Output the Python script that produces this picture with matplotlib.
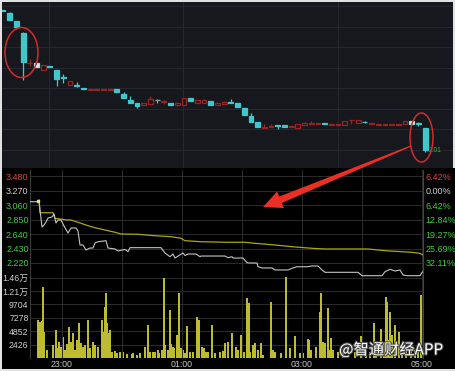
import numpy as np
import matplotlib
matplotlib.use('Agg')
import matplotlib.pyplot as plt
from matplotlib.patches import Rectangle, Ellipse, Polygon
import matplotlib.patheffects as pe

plt.rcParams['font.family'] = ['Liberation Sans', 'Noto Sans CJK SC']

# --- K线 (upper panel) ---
opens = [4.81, 4.75, 4.59, 4.35, 3.75, 3.75, 3.61, 3.69, 3.61, 3.47,
         3.31, 3.32, 3.26, 3.22, 3.22, 3.22, 3.22, 3.23, 3.13, 3.01,
         2.95, 2.91, 2.93, 3.02, 2.98, 2.95, 2.91, 2.91, 3.05, 2.95,
         2.95, 2.99, 2.92, 2.93, 2.98, 2.95, 2.85, 2.69, 2.57, 2.46,
         2.48, 2.50, 2.50, 2.48, 2.45, 2.52, 2.53, 2.54, 2.55, 2.52,
         2.52, 2.51, 2.60, 2.55, 2.57, 2.54, 2.52, 2.52, 2.51, 2.52,
         2.53, 2.59, 2.54, 2.45]
highs = [4.81, 4.76, 4.59, 4.37, 3.83, 3.75, 3.71, 3.69, 3.61, 3.53,
         3.39, 3.37, 3.26, 3.23, 3.23, 3.23, 3.23, 3.23, 3.17, 3.09,
         2.95, 2.95, 3.09, 3.02, 3.01, 2.95, 2.97, 3.05, 3.05, 3.01,
         3.03, 2.99, 2.97, 2.98, 3.03, 2.95, 2.85, 2.75, 2.57, 2.53,
         2.52, 2.50, 2.50, 2.49, 2.53, 2.57, 2.58, 2.55, 2.55, 2.53,
         2.53, 2.59, 2.61, 2.61, 2.59, 2.55, 2.53, 2.53, 2.52, 2.53,
         2.59, 2.59, 2.56, 2.45]
lows = [4.80, 4.60, 4.43, 3.41, 3.69, 3.67, 3.61, 3.67, 3.29, 3.35,
        3.31, 3.27, 3.24, 3.22, 3.22, 3.22, 3.22, 3.17, 3.05, 2.95,
        2.85, 2.91, 2.93, 2.95, 2.93, 2.92, 2.89, 2.91, 2.99, 2.95,
        2.95, 2.92, 2.91, 2.93, 2.95, 2.87, 2.71, 2.56, 2.47, 2.45,
        2.47, 2.43, 2.47, 2.48, 2.45, 2.51, 2.53, 2.54, 2.53, 2.52,
        2.52, 2.51, 2.53, 2.55, 2.55, 2.54, 2.52, 2.52, 2.51, 2.52,
        2.53, 2.53, 2.49, 1.97]
closes = [4.80, 4.61, 4.47, 3.77, 3.76, 3.67, 3.71, 3.67, 3.43, 3.45,
          3.39, 3.30, 3.24, 3.23, 3.23, 3.23, 3.23, 3.17, 3.05, 2.95,
          2.89, 2.95, 3.03, 3.02, 2.985, 2.92, 2.95, 3.05, 2.99, 3.01,
          3.02, 2.92, 2.96, 2.98, 2.96, 2.87, 2.71, 2.56, 2.47, 2.48,
          2.49, 2.495, 2.47, 2.49, 2.53, 2.55, 2.55, 2.55, 2.53, 2.53,
          2.53, 2.59, 2.61, 2.61, 2.56, 2.55, 2.53, 2.53, 2.52, 2.53,
          2.59, 2.53, 2.53, 2.01]
highlight = [5, 61]
month_breaks = [6.9, 26.9, 50.0]
last_label = '2.01'

# --- 分时 (lower panel), minutes after 22:30 ---
line_t = [-2, 6, 7, 8, 10, 12, 14, 16, 20, 22, 24, 26, 29, 32, 36, 39, 44, 46,
          48, 51, 54, 58, 61, 63, 66, 74, 76, 83, 86, 93, 96, 98, 129, 133,
          138, 141, 143, 151, 153, 156, 164, 168, 169, 193, 196, 200, 201, 211,
          215, 218, 225, 226, 230, 240, 243, 256, 261, 265, 275, 280, 286, 290,
          293, 326, 330, 350, 353, 358, 363, 368, 371, 375, 388, 390, 391]
line_p = [3.108, 3.108, 3.132, 2.988, 2.741, 2.770, 2.814, 2.872, 2.886, 2.930,
          2.799, 2.843, 2.843, 2.756, 2.654, 2.727, 2.727, 2.683, 2.481, 2.481,
          2.408, 2.437, 2.437, 2.510, 2.528, 2.543, 2.437, 2.423, 2.394, 2.416,
          2.384, 2.442, 2.442, 2.365, 2.311, 2.350, 2.292, 2.365, 2.329, 2.350,
          2.350, 2.311, 2.321, 2.321, 2.297, 2.311, 2.292, 2.292, 2.224, 2.220,
          2.220, 2.166, 2.148, 2.148, 2.119, 2.119, 2.148, 2.166, 2.166, 2.177,
          2.177, 2.119, 2.085, 2.085, 2.036, 2.036, 2.094, 2.129, 2.104, 2.119,
          2.046, 2.036, 2.036, 2.085, 2.094]
avg_t = [6, 7, 8, 21, 23, 28, 35, 39, 44, 49, 56, 63, 73, 83, 89, 106, 123,
         139, 149, 153, 169, 196, 213, 223, 243, 260, 280, 293, 336, 353, 380,
         388, 391]
avg_p = [3.118, 3.132, 2.948, 2.948, 2.867, 2.857, 2.843, 2.843, 2.818, 2.795,
         2.760, 2.731, 2.698, 2.665, 2.640, 2.636, 2.615, 2.601, 2.578, 2.543,
         2.528, 2.520, 2.520, 2.505, 2.481, 2.456, 2.433, 2.423, 2.423, 2.398,
         2.375, 2.360, 2.336]
vol_t = [6, 8, 9, 10, 11, 12, 15, 21, 24, 25, 27, 29, 31, 33, 35, 37, 39, 41,
         43, 45, 47, 49, 51, 53, 56, 58, 61, 63, 66, 70, 71, 73, 74, 75, 77,
         78, 80, 83, 85, 88, 91, 95, 100, 101, 105, 108, 113, 116, 118, 121,
         123, 126, 127, 130, 132, 133, 136, 138, 139, 141, 142, 145, 147, 149,
         151, 153, 155, 158, 161, 165, 167, 170, 172, 174, 176, 180, 183, 188,
         191, 193, 196, 200, 204, 206, 209, 212, 215, 217, 218, 221, 223, 226,
         229, 231, 239, 241, 243, 249, 254, 258, 263, 268, 271, 276, 277, 279,
         284, 288, 289, 291, 293, 296, 298, 299, 301, 306, 311, 323, 329, 334,
         338, 342, 344, 349, 352, 354, 355, 357, 358, 360, 363, 367, 370, 374,
         379, 383, 386, 389, 391]
vol_v = [6878, 6576, 4762, 6697, 12905, 4762, 1448, 2353, 5068, 1750, 2950,
         2050, 3855, 1448, 2474, 5665, 2950, 4470, 1448, 3258, 6281, 2655, 2050,
         2353, 6878, 1750, 2950, 2353, 2050, 6878, 4762, 9290, 11710, 6281, 4470,
         5068, 1146, 1267, 845, 1026, 1026, 664, 664, 845, 543, 845, 2050, 5973,
         1026, 1146, 1026, 1448, 845, 1448, 14540, 2353, 1448, 8688, 2474, 2050,
         1750, 4163, 11826, 1750, 1448, 845, 5792, 1146, 1026, 7481, 6878, 2050,
         1750, 1146, 1146, 5973, 845, 1146, 1267, 2655, 2950, 4470, 2050, 1448,
         4163, 1146, 10805, 9900, 1146, 2353, 2655, 1448, 2655, 543, 10190, 1448,
         1146, 845, 14720, 1750, 4036, 845, 845, 3439, 3258, 1448, 2050, 8380,
         11710, 2950, 2655, 8996, 1448, 3560, 1448, 1146, 1146, 1146, 4036, 1448,
         1146, 6281, 2353, 5250, 2950, 11100, 10190, 3258, 8380, 4163, 5973, 4762,
         1750, 1448, 1267, 1448, 1267, 11403, 11100]

price_ticks = [3.48, 3.27, 3.06, 2.85, 2.64, 2.43, 2.22]
price_labels = ['3.480', '3.270', '3.060', '2.850', '2.640', '2.430', '2.220']
pct_labels = ['6.42%', '0.00%', '6.42%', '12.84%', '19.27%', '25.69%', '32.11%']
vol_ticks = [2426, 4852, 7278, 9704, 12130, 14556]
vol_labels = ['2426', '4852', '7278', '9704', '1.21万', '1.46万']
time_ticks = [30, 150, 270, 390]
time_labels = ['23:00', '01:00', '03:00', '05:00']
hour_lines = [30, 90, 150, 210, 270, 330, 390]

CYAN = '#3ec8cb'
RED = '#9a2222'
GREEN = '#3fd03f'
LABEL = '#d0d0d0'
TOP_BG = '#16181d'

W, H = 456, 371
fig = plt.figure(figsize=(W / 100, H / 100), dpi=100, facecolor='#e2e2e2')


def box(x0, y0, x1, y1):
    return [x0 / W, 1 - y1 / H, (x1 - x0) / W, (y1 - y0) / H]


# black background of the lower panel
ax_bg = fig.add_axes(box(2, 168, 455, 369))
ax_bg.set_facecolor('black')
ax_bg.set_xticks([])
ax_bg.set_yticks([])
for s in ax_bg.spines.values():
    s.set_visible(False)

# upper candlestick panel
ax_k = fig.add_axes(box(2, 2, 453, 168))
ax_k.set_facecolor(TOP_BG)
ax_k.set_xlim(-0.15, 67.16)
ax_k.set_ylim(1.65, 4.97)
ax_k.set_yticks(np.linspace(2.01, 4.89, 8))
ax_k.set_xticks(month_breaks)
ax_k.grid(True, color='#25282e', lw=0.7)
ax_k.tick_params(length=0, labelleft=False, labelbottom=False)
for s in ax_k.spines.values():
    s.set_visible(False)

bw = 0.72
for i, (o, h, l, c) in enumerate(zip(opens, highs, lows, closes)):
    if i in highlight:
        col, face = '#a9dede', '#d8f2f2'
    elif c > o:
        col, face = RED, TOP_BG
    elif c < o:
        col, face = CYAN, CYAN
    else:
        col, face = '#9a9a9a', '#9a9a9a'
    ax_k.vlines(i, l, h, color=col, lw=0.9, zorder=2)
    ax_k.add_patch(Rectangle((i - bw / 2, min(o, c)), bw, abs(c - o),
                             facecolor=face, edgecolor=col, lw=0.9, zorder=3))

ax_k.text(len(closes) - 1 + 0.55, closes[-1], last_label, color='#3cb043',
          fontsize=4.8, va='center', ha='left')
ax_k.add_patch(Ellipse((2.76, 3.96), 4.93, 1.0, fill=False, ec='#d42a2a', lw=1.1, zorder=5))
ax_k.add_patch(Ellipse((62.46, 2.26), 3.43, 0.98, fill=False, ec='#d42a2a', lw=1.1, zorder=5))

# lower panel: price + volume
ax = fig.add_axes(box(30, 170, 423, 358))
ax.set_xlim(-2, 391)
ax.set_ylim(0.844, 3.567)
ax.patch.set_visible(False)
axv = ax.twinx()
axv.set_ylim(0, 34028)
ax_bg.set_zorder(0)
axv.set_zorder(1)
ax.set_zorder(2)

for p in price_ticks:
    ax.axhline(p, color='#2c2c2c', lw=0.7, zorder=0)
for v in vol_ticks:
    axv.axhline(v, color='#2c2c2c', lw=0.7, zorder=0)
for t in hour_lines:
    ax.axvline(t, color='#2c2c2c', lw=0.7, zorder=0)

axv.bar(vol_t, vol_v, width=1.3, color='#bdbb30', zorder=2)
ax.plot(avg_t, avg_p, color='#aaa41e', lw=0.9, zorder=3)
ax.plot(line_t, line_p, color='#c4c4c4', lw=0.8, zorder=4)
ax.plot(avg_t[0], avg_p[0], 's', ms=2, color='#e8e27a', zorder=5)

for s in ['top', 'bottom']:
    ax.spines[s].set_visible(False)
ax.spines['left'].set_color('#3a3a3a')
ax.spines['right'].set_color('#444444')
for s in axv.spines.values():
    s.set_visible(False)

ax.set_yticks(price_ticks, price_labels)
ax.tick_params(axis='y', length=0, pad=1, labelsize=6.5)
for lab, col in zip(ax.get_yticklabels(), ['#e04848', LABEL] + [GREEN] * 5):
    lab.set_color(col)

ax.set_xticks(time_ticks, time_labels)
ax.tick_params(axis='x', length=0, pad=1.5, labelsize=6.3, labelcolor='#c8c8c8')

axv.yaxis.tick_left()
axv.set_yticks(vol_ticks, vol_labels)
axv.tick_params(axis='y', length=0, pad=1, labelsize=6.3, labelcolor=LABEL)

sec = ax.secondary_yaxis('right')
sec.set_yticks(price_ticks, pct_labels)
sec.tick_params(length=0, pad=2, labelsize=6.5)
sec.spines['right'].set_visible(False)
for lab, col in zip(sec.get_yticklabels(), ['#e04848', LABEL] + [GREEN] * 5):
    lab.set_color(col)

# overlay: arrow and watermark (pixel coordinates)
ov = fig.add_axes([0, 0, 1, 1])
ov.set_xlim(0, W)
ov.set_ylim(H, 0)
ov.axis('off')
ov.set_zorder(10)

tip = np.array([263.0, 207.0])
tail = np.array([411.0, 146.0])
u = (tail - tip) / np.linalg.norm(tail - tip)
n = np.array([-u[1], u[0]])
base = tip + 19 * u
pts = [tip, base + 9 * n, base + 3.5 * n, tail + 0.6 * n,
       tail - 0.6 * n, base - 3.5 * n, base - 9 * n]
ov.add_patch(Polygon(pts, closed=True, color='#ea2f27', lw=0))

ov.text(391, 350, '@智通财经APP', color='white', fontsize=11, ha='center', va='center',
        family=['Noto Sans CJK SC'],
        path_effects=[pe.withStroke(linewidth=1.5, foreground='#4a4a4a')])

fig.savefig('out.png', dpi=100, facecolor=fig.get_facecolor())
